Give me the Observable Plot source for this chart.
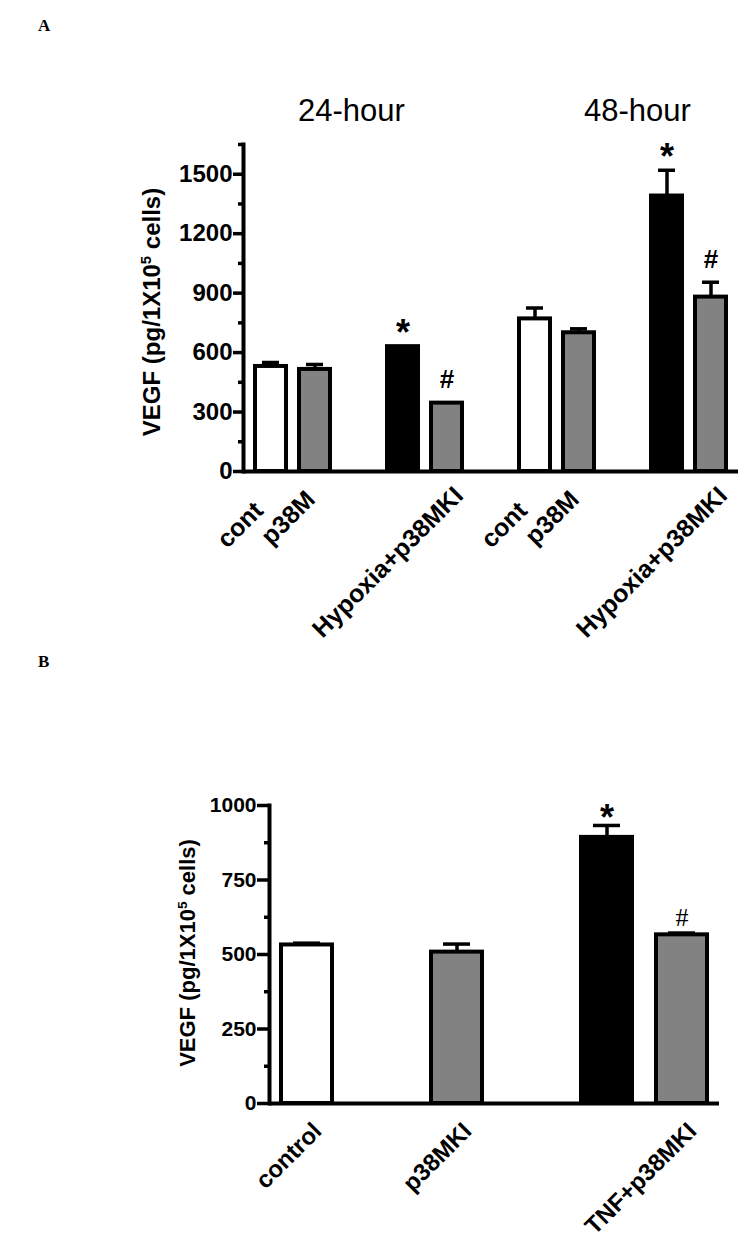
<!DOCTYPE html>
<html>
<head>
<meta charset="utf-8">
<script src="https://cdn.jsdelivr.net/npm/d3@7"></script>
<script src="https://cdn.jsdelivr.net/npm/@observablehq/plot@0.6"></script>
<style>
  html, body { margin: 0; padding: 0; background: #fff; }
  #page { position: relative; width: 750px; height: 1242px; background: #fff; overflow: hidden;
          font-family: "Liberation Sans", Arial, sans-serif; color: #000; }
  .abs { position: absolute; white-space: nowrap; line-height: normal; }
  .panel { position: absolute; left: 0; }
  .letter { font-family: "Liberation Serif", "Times New Roman", serif; font-weight: bold; font-size: 17px; }
  .head { font-size: 31px; }
  .ylab { font-weight: bold; transform-origin: center center; transform: translate(-50%, -50%) rotate(-90deg); }
  .ylab sup { font-size: 0.62em; vertical-align: 0.6em; line-height: 0; }
</style>
</head>
<body>
<div id="page"></div>
<script>
// ---------- Panel A data ----------
const slotsA = ["control 24h","p38MKI 24h","gap 1","Hypoxia 24h","Hypoxia+p38MKI 24h","gap 2",
                "control 48h","p38MKI 48h","gap 3","Hypoxia 48h","Hypoxia+p38MKI 48h"];
const barsA  = ["control 24h","p38MKI 24h","Hypoxia 24h","Hypoxia+p38MKI 24h",
                "control 48h","p38MKI 48h","Hypoxia 48h","Hypoxia+p38MKI 48h"];
const treatA = ["control","inhibitor","stimulus","inhibitor","control","inhibitor","stimulus","inhibitor"];
const meanA  = [530, 515, 630, 345, 770, 700, 1390, 880];
const errA   = [20, 25, 0, 0, 55, 20, 130, 75];
const signA  = ["", "", "*", "#", "", "", "*", "#"];
const fullLabelsA  = {"Hypoxia+p38MKI 24h": "Hypoxia+p38MKI", "Hypoxia+p38MKI 48h": "Hypoxia+p38MKI"};
const cutLabelsA1  = {"control 24h": "cont", "control 48h": "cont"};
const cutLabelsA2  = {"p38MKI 24h": "p38M", "p38MKI 48h": "p38M"};
const yTicksA = [0, 300, 600, 900, 1200, 1500];
const yMinorA = [150, 450, 750, 1050, 1350, 1650];
const groupTitles = ["24-hour", "48-hour"];

// ---------- Panel B data ----------
const slotsB = ["control","gap 1","p38MKI","gap 2","TNF","TNF+p38MKI"];
const barsB  = ["control","p38MKI","TNF","TNF+p38MKI"];
const treatB = ["control","inhibitor","stimulus","inhibitor"];
const meanB  = [532, 508, 893, 566];
const errB   = [6, 27, 40, 6];
const signB  = ["", "", "*", "#"];
const labelsB = {"control": "control", "p38MKI": "p38MKI", "TNF+p38MKI": "TNF+p38MKI"};
const yTicksB = [0, 250, 500, 750, 1000];
const yMinorB = [125, 375, 625, 875];

const yTitle = 'VEGF (pg/1X10<sup>5</sup> cells)';

const colorScale = {domain: ["control","inhibitor","stimulus"], range: ["#ffffff","#828282","#000000"]};

const rowsA = barsA.map((s, i) => ({slot: s, treat: treatA[i], mean: meanA[i], err: errA[i], sign: signA[i]}));
const rowsB = barsB.map((s, i) => ({slot: s, treat: treatB[i], mean: meanB[i], err: errB[i], sign: signB[i]}));

const page = document.getElementById("page");
function addDiv(cls, html, left, top, extra) {
  const d = document.createElement("div");
  d.className = "abs " + cls;
  d.innerHTML = html;
  d.style.left = left + "px";
  d.style.top = top + "px";
  if (extra) Object.assign(d.style, extra);
  page.appendChild(d);
  return d;
}
const fmt = d => String(d);
const font = '"Liberation Sans", Arial, sans-serif';

// ---------- Panel A ----------
const plotA = Plot.plot({
  width: 750, height: 640,
  marginLeft: 243, marginRight: 12, marginTop: 144, marginBottom: 169,
  style: {fontFamily: font, fontWeight: "bold", fontSize: "24px", color: "#000", background: "transparent", overflow: "visible"},
  x: {type: "band", domain: slotsA, paddingInner: 0.29, paddingOuter: 0.155, axis: null},
  y: {domain: [0, 1650], axis: null},
  color: colorScale,
  marks: [
    Plot.ruleX(rowsA.filter(d => d.err > 0), {x: "slot", y1: "mean", y2: d => d.mean + d.err, stroke: "#000", strokeWidth: 3.5}),
    Plot.tickY(rowsA.filter(d => d.err > 0), {x: "slot", y: d => d.mean + d.err, stroke: "#000", strokeWidth: 3.5, insetLeft: 7, insetRight: 7}),
    Plot.barY(rowsA, {x: "slot", y: "mean", fill: "treat", stroke: "#000", strokeWidth: 4}),
    Plot.text(rowsA.filter(d => d.sign === "*"), {x: "slot", y: d => d.mean + d.err, text: "sign", fontSize: 36, fontWeight: "bold", dy: -13}),
    Plot.text(rowsA.filter(d => d.sign === "#"), {x: "slot", y: d => d.mean + d.err, text: "sign", fontSize: 26, fontWeight: "bold", dy: -23}),
    Plot.axisY({ticks: yTicksA, tickFormat: fmt, tickSize: 10, tickPadding: 1, strokeWidth: 3.5, label: null, fontSize: 24}),
    Plot.axisY({ticks: yMinorA, tickSize: 5, strokeWidth: 3.5, tickFormat: () => "", label: null}),
    Plot.frame({anchor: "left", strokeWidth: 4}),
    Plot.ruleY([0], {strokeWidth: 4}),
    Plot.axisX({ticks: Object.keys(fullLabelsA), tickFormat: d => fullLabelsA[d], tickSize: 0, tickPadding: 13, rotate: -45, textAnchor: "end", dx: 5, label: null, fontSize: 25}),
    Plot.axisX({ticks: Object.keys(cutLabelsA1), tickFormat: d => cutLabelsA1[d], tickSize: 0, tickPadding: 13, rotate: -45, textAnchor: "end", dx: -19, dy: 15, label: null, fontSize: 25}),
    Plot.axisX({ticks: Object.keys(cutLabelsA2), tickFormat: d => cutLabelsA2[d], tickSize: 0, tickPadding: 13, rotate: -45, textAnchor: "end", dx: -11, dy: 4, label: null, fontSize: 25})
  ]
});
plotA.classList.add("panel");
plotA.style.top = "0px";
page.appendChild(plotA);

// ---------- Panel B ----------
const plotB = Plot.plot({
  width: 750, height: 602,
  marginLeft: 269, marginRight: 31, marginTop: 165, marginBottom: 139,
  style: {fontFamily: font, fontWeight: "bold", fontSize: "21px", color: "#000", background: "transparent", overflow: "visible"},
  x: {type: "band", domain: slotsB, paddingInner: 0.32, paddingOuter: 0.16, axis: null},
  y: {domain: [0, 1000], axis: null},
  color: colorScale,
  marks: [
    Plot.ruleX(rowsB, {x: "slot", y1: "mean", y2: d => d.mean + d.err, stroke: "#000", strokeWidth: 3.5}),
    Plot.tickY(rowsB, {x: "slot", y: d => d.mean + d.err, stroke: "#000", strokeWidth: 3.5, insetLeft: 12, insetRight: 12}),
    Plot.barY(rowsB, {x: "slot", y: "mean", fill: "treat", stroke: "#000", strokeWidth: 4}),
    Plot.text(rowsB.filter(d => d.sign === "*"), {x: "slot", y: d => d.mean + d.err, text: "sign", fontSize: 36, fontWeight: "bold", dy: -7}),
    Plot.text(rowsB.filter(d => d.sign === "#"), {x: "slot", y: d => d.mean + d.err, text: "sign", fontSize: 26, fontWeight: "normal", fontFamily: '"Liberation Serif", "Times New Roman", serif', dy: -15}),
    Plot.axisY({ticks: yTicksB, tickFormat: fmt, tickSize: 12, tickPadding: 1, strokeWidth: 3.5, label: null, fontSize: 21}),
    Plot.axisY({ticks: yMinorB, tickSize: 5, strokeWidth: 3.5, tickFormat: () => "", label: null}),
    Plot.frame({anchor: "left", strokeWidth: 4}),
    Plot.ruleY([0], {strokeWidth: 4}),
    Plot.axisX({ticks: Object.keys(labelsB), tickFormat: d => labelsB[d], tickSize: 0, tickPadding: 17, rotate: -45, textAnchor: "end", dx: 4, label: null, fontSize: 24})
  ]
});
plotB.classList.add("panel");
plotB.style.top = "640px";
page.appendChild(plotB);

// ---------- Text outside the plots ----------
addDiv("letter", "A", 38, 16);
addDiv("letter", "B", 38, 652);
addDiv("head", groupTitles[0], 298, 93);
addDiv("head", groupTitles[1], 584, 93);
addDiv("ylab", yTitle, 152, 312, {fontSize: "24px"});
addDiv("ylab", yTitle, 188, 953, {fontSize: "22px"});
</script>
</body>
</html>
